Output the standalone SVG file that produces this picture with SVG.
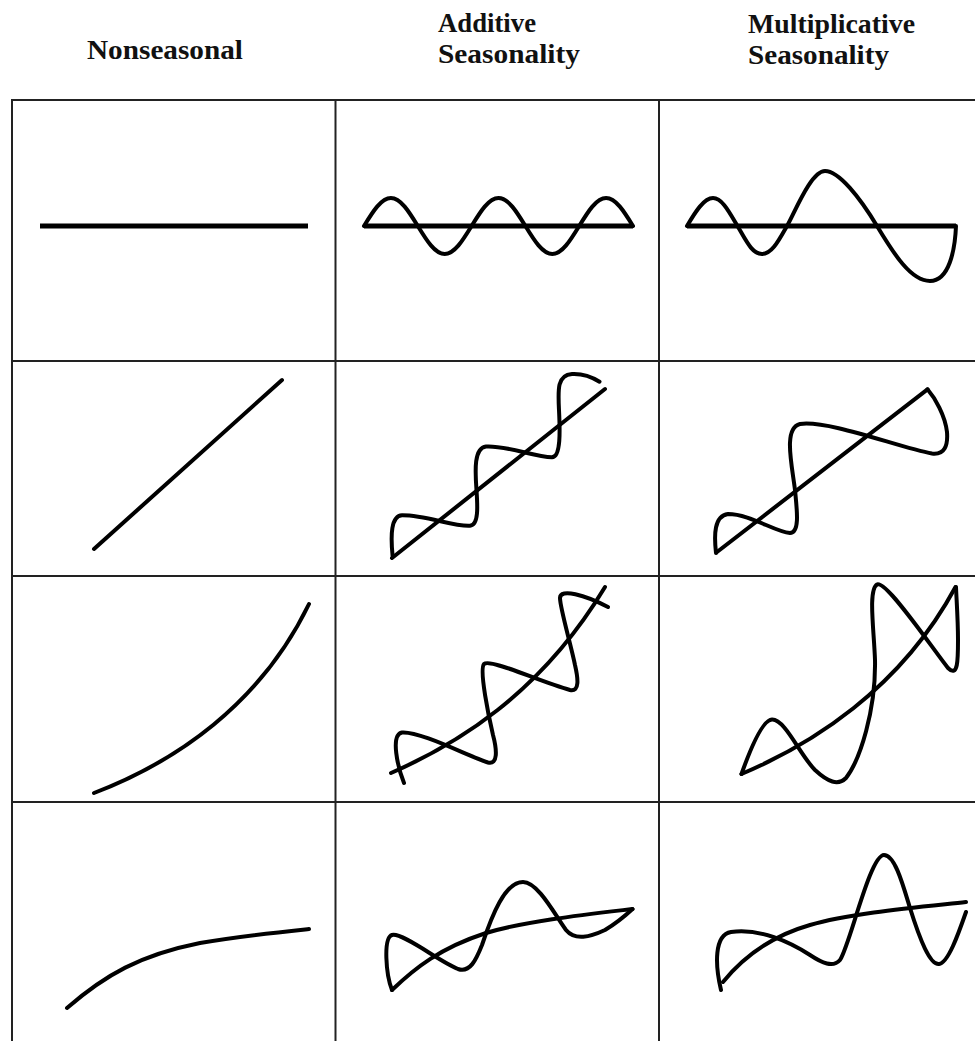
<svg xmlns="http://www.w3.org/2000/svg" width="975" height="1041" viewBox="0 0 975 1041">
<style>
.hdr{font-family:"Liberation Serif","Times New Roman",serif;font-weight:bold;font-size:28px;fill:#111}
.grid{stroke:#222;stroke-width:2;fill:none}
.c{stroke:#000;stroke-width:4;fill:none;stroke-linejoin:round;stroke-linecap:round}
.base{stroke:#000;stroke-width:5;fill:none;stroke-linecap:butt}
</style>
<rect width="975" height="1041" fill="#fff"/>
<g id="headers">
<text class="hdr" x="87" y="59" textLength="156" lengthAdjust="spacingAndGlyphs">Nonseasonal</text>
<text class="hdr" x="438" y="32" textLength="98" lengthAdjust="spacingAndGlyphs">Additive</text>
<text class="hdr" x="438" y="63" textLength="142" lengthAdjust="spacingAndGlyphs">Seasonality</text>
<text class="hdr" x="748" y="33" textLength="167" lengthAdjust="spacingAndGlyphs">Multiplicative</text>
<text class="hdr" x="748" y="64" textLength="141" lengthAdjust="spacingAndGlyphs">Seasonality</text>
</g>
<g id="grid" class="grid">
<line x1="12" y1="100" x2="975" y2="100"/>
<line x1="12" y1="361" x2="975" y2="361"/>
<line x1="12" y1="576" x2="975" y2="576"/>
<line x1="12" y1="802" x2="975" y2="802"/>
<line x1="12" y1="99" x2="12" y2="1041"/>
<line x1="335.5" y1="100" x2="335.5" y2="1041"/>
<line x1="659" y1="100" x2="659" y2="1041"/>
</g>
<g id="r1-nonseasonal">
<line class="base" x1="40" y1="226" x2="308" y2="226"/>
</g>
<g id="r1-additive">
<line class="base" x1="364" y1="226" x2="633" y2="226"/>
<path class="c" d="M364,226 C372.8,211.6 381.2,198 390.9,198 S409,211.6 417.8,226 S435,254 444.7,254 S462.8,240.4 471.6,226 S488.8,198 498.5,198 S516.6,211.6 525.4,226 S542.6,254 552.3,254 S570.4,240.4 579.2,226 S596.4,198 606.1,198 S624.2,211.6 633,226"/>
</g>
<g id="r1-multiplicative">
<line class="base" x1="687" y1="226" x2="956" y2="226"/>
<path class="c" d="M687,226 C695.5,211.6 704,198 713,198 S729,211.6 737.5,226 S752,254 762,254 S779,240 787,226 S811,171 825,171 S860,197.8 877,226 S910.9,281 930,281 S955,250 956,226"/>
</g>
<g id="r2-nonseasonal">
<line class="c" x1="94" y1="549" x2="282" y2="380"/>
</g>
<g id="r2-additive">
<line class="c" x1="392" y1="558" x2="605" y2="389"/>
<path class="c" d="M392.6,556 C390.5,535 391,516 402,515.3 C425,515 455,527 470,525.7 C479,525 477.5,505 476.5,490 C475,470 474,448 486,446.5 C505,445 535,457 552,457.3 C561,457 560,430 559,410 C558,390 557,375 572,374 C582,373.5 592,377 599.5,381.7"/>
</g>
<g id="r2-multiplicative">
<line class="c" x1="717" y1="552" x2="927.5" y2="389.3"/>
<path class="c" d="M716,553 C714,535 714,516 728,514 C750,514 775,532 790,533 C800,533 797,510 795,490 C792,465 783,428 800,424 C830,420 900,448 932,453.5 C945,455 948,445 947,432 C945,415 935,398 927.5,389.3"/>
</g>
<g id="r3-nonseasonal">
<path class="c" d="M94,793 C175,762 260,705 309,604"/>
</g>
<g id="r3-additive">
<path class="c" d="M391,773 C455,745 540,695 605,587"/>
<path class="c" d="M404,783 C398,768 390,735 402,732.5 C420,731 470,757 488,762.5 C498,765 497,750 493,735 C489,718 479,670 484,664 C490,658 540,682 570,690 C580,692 578,678 575,665 C571,645 560,608 560,598 C560,588 585,595 608,607"/>
</g>
<g id="r3-multiplicative">
<path class="c" d="M741.5,774 C810,745 900,690 955.5,587"/>
<path class="c" d="M741.5,774 C750,750 762,720 772,719.5 C785,719 800,755 815,770 C828,782 838,786 846,778 C860,760 876,710 875,660 C874,630 868,590 877,584.5 C886,580 930,645 948,668 C958,678 958,660 958,640 C958,620 956.5,600 956,587"/>
</g>
<g id="r4-nonseasonal">
<path class="c" d="M67,1008 C105,975 140,955 200,943 C240,936 280,932 309,929"/>
</g>
<g id="r4-additive">
<path class="c" d="M392,990 C415,968 440,948 486,933 C525,921 590,914 632.5,909"/>
<path class="c" d="M392,990 C386,975 383,938 392,935 C402,932 440,962 458,969 C470,973 476,960 482,945 C492,915 505,882 523,882 C538,882 555,915 566,930 C575,941 590,937 605,930 C615,924 625,916 632.5,909"/>
</g>
<g id="r4-multiplicative">
<path class="c" d="M723,982 C745,955 775,935 810,925 C850,913 920,907 966,902"/>
<path class="c" d="M721,990 C715,965 714,935 731,932 C760,928 790,942 810,955 C822,963 833,968 840,960 C850,945 870,855 884,855 C895,855 903,885 910,908 C920,940 930,965 939,964 C948,963 958,935 966,912"/>
</g>
</svg>
